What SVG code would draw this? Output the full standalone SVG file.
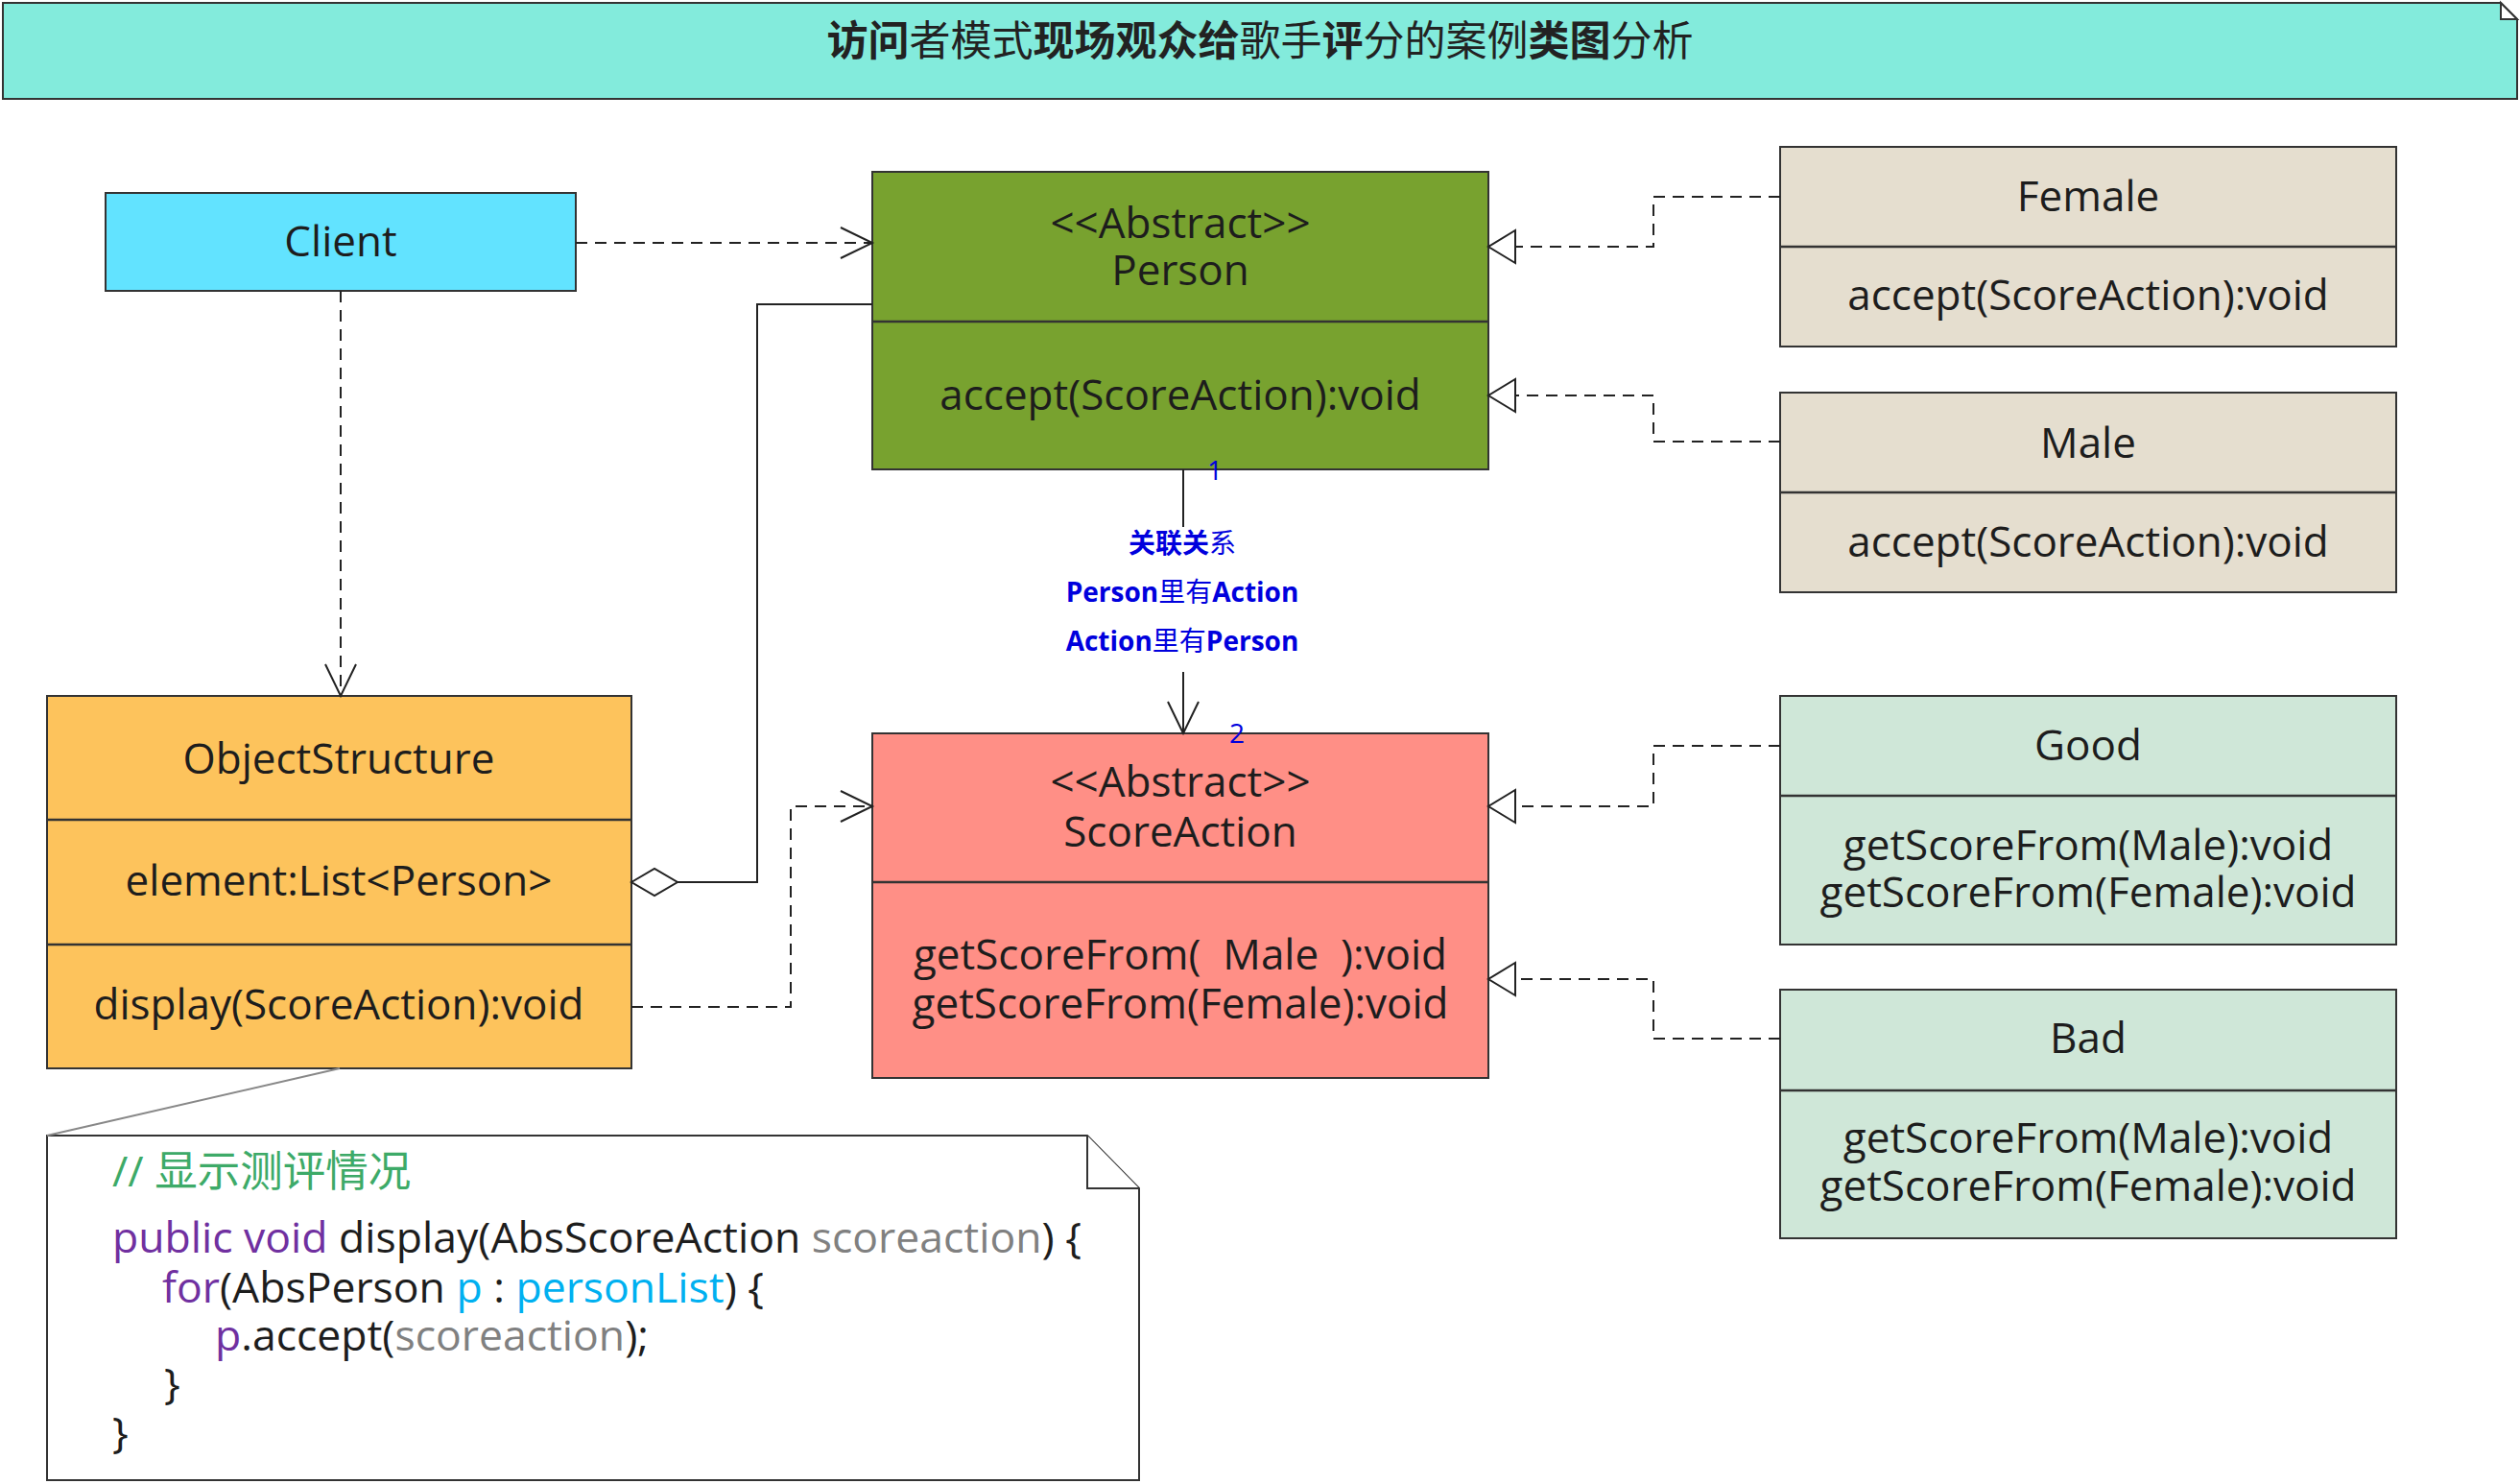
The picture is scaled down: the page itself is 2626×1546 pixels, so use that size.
<svg xmlns="http://www.w3.org/2000/svg" width="2626" height="1546" viewBox="0 0 2626 1546">
<style>
.box{stroke:#333;stroke-width:2}
.div{stroke:#333;stroke-width:2.5}
.t{font-family:"Open Sans","Noto Sans","Noto Sans CJK SC",sans-serif;font-size:44px;fill:#1d1d1d;text-anchor:middle}
.dash{fill:none;stroke:#222;stroke-width:2;stroke-dasharray:12 8}
.solid{fill:none;stroke:#222;stroke-width:2}
.lbl{font-family:"Open Sans","Noto Sans CJK SC",sans-serif;font-size:28px;fill:#0000DD;text-anchor:middle}
.code{font-family:"Open Sans","Noto Sans","Noto Sans CJK SC",sans-serif;font-size:44.5px;fill:#1d1d1d}
.kw{fill:#7030A0}
.gr{fill:#808080}
.cy{fill:#00B0F0}
.b{font-weight:bold}
</style>
<defs>
<marker id="open" markerUnits="userSpaceOnUse" markerWidth="36" markerHeight="36" refX="33" refY="17" orient="auto" overflow="visible">
<path d="M0,1 L33,17 L0,33" fill="none" stroke="#222" stroke-width="2"/>
</marker>
<marker id="tri" markerUnits="userSpaceOnUse" markerWidth="32" markerHeight="36" refX="29" refY="17" orient="auto" overflow="visible">
<path d="M1,0 L29,17 L1,34 Z" fill="#fff" stroke="#222" stroke-width="2"/>
</marker>
<marker id="dia" markerUnits="userSpaceOnUse" markerWidth="50" markerHeight="30" refX="0" refY="14" orient="auto" overflow="visible">
<path d="M0,14 L24,0 L48,14 L24,28 Z" fill="#fff" stroke="#222" stroke-width="2"/>
</marker>
</defs>
<rect width="2626" height="1546" fill="#fff"/>

<g id="title">
<path d="M3,3 H2606 L2623,20 V103 H3 Z" fill="#83EBDC" stroke="#333" stroke-width="2"/>
<path d="M2606,3 V20 H2623 Z" fill="#fff" stroke="#333" stroke-width="2"/>
<text x="1313" y="58" font-family="'Noto Sans CJK SC',sans-serif" font-size="43" fill="#222" text-anchor="middle"><tspan font-weight="bold">访问</tspan>者模式<tspan font-weight="bold">现场观众给</tspan>歌手<tspan font-weight="bold">评</tspan>分的案例<tspan font-weight="bold">类图</tspan>分析</text>
</g>

<g id="client">
<rect class="box" x="110" y="201" width="490" height="102" fill="#62E3FF"/>
<text class="t" x="355" y="267">Client</text>
</g>

<g id="person">
<rect class="box" x="909" y="179" width="642" height="310" fill="#78A22F"/>
<line class="div" x1="909" y1="335" x2="1551" y2="335"/>
<text class="t" x="1230" y="248">&lt;&lt;Abstract&gt;&gt;</text>
<text class="t" x="1230" y="297">Person</text>
<text class="t" x="1230" y="427">accept(ScoreAction):void</text>
</g>

<g id="female">
<rect class="box" x="1855" y="153" width="642" height="208" fill="#E5DECF"/>
<line class="div" x1="1855" y1="257" x2="2497" y2="257"/>
<text class="t" x="2176" y="220">Female</text>
<text class="t" x="2176" y="323">accept(ScoreAction):void</text>
</g>

<g id="male">
<rect class="box" x="1855" y="409" width="642" height="208" fill="#E5DECF"/>
<line class="div" x1="1855" y1="513" x2="2497" y2="513"/>
<text class="t" x="2176" y="477">Male</text>
<text class="t" x="2176" y="580">accept(ScoreAction):void</text>
</g>

<g id="objectstructure">
<rect class="box" x="49" y="725" width="609" height="388" fill="#FDC35C"/>
<line class="div" x1="49" y1="854" x2="658" y2="854"/>
<line class="div" x1="49" y1="984" x2="658" y2="984"/>
<text class="t" x="353" y="806">ObjectStructure</text>
<text class="t" x="353" y="933">element:List&lt;Person&gt;</text>
<text class="t" x="353" y="1062">display(ScoreAction):void</text>
</g>

<g id="scoreaction">
<rect class="box" x="909" y="764" width="642" height="359" fill="#FF8F86"/>
<line class="div" x1="909" y1="919" x2="1551" y2="919"/>
<text class="t" x="1230" y="830">&lt;&lt;Abstract&gt;&gt;</text>
<text class="t" x="1230" y="882">ScoreAction</text>
<text class="t" x="1230" y="1010" xml:space="preserve">getScoreFrom(  Male  ):void</text>
<text class="t" x="1230" y="1061">getScoreFrom(Female):void</text>
</g>

<g id="good">
<rect class="box" x="1855" y="725" width="642" height="259" fill="#CFE7D8"/>
<line class="div" x1="1855" y1="829" x2="2497" y2="829"/>
<text class="t" x="2176" y="792">Good</text>
<text class="t" x="2176" y="896">getScoreFrom(Male):void</text>
<text class="t" x="2176" y="945">getScoreFrom(Female):void</text>
</g>

<g id="bad">
<rect class="box" x="1855" y="1031" width="642" height="259" fill="#CFE7D8"/>
<line class="div" x1="1855" y1="1136" x2="2497" y2="1136"/>
<text class="t" x="2176" y="1097">Bad</text>
<text class="t" x="2176" y="1201">getScoreFrom(Male):void</text>
<text class="t" x="2176" y="1251">getScoreFrom(Female):void</text>
</g>

<g id="note">
<path d="M49,1183 H1133 L1187,1238 V1542 H49 Z" fill="#fff" stroke="#333" stroke-width="2"/>
<path d="M1133,1183 V1238 H1187" fill="#fff" stroke="#333" stroke-width="2"/>
<text class="code" x="117" y="1236" style="fill:#3DAA68">// 显示测评情况</text>
<text class="code" x="117" y="1305"><tspan class="kw">public void</tspan> display(AbsScoreAction <tspan class="gr">scoreaction</tspan>) {</text>
<text class="code" x="169" y="1357"><tspan class="kw">for</tspan>(AbsPerson <tspan class="cy">p</tspan> : <tspan class="cy">personList</tspan>) {</text>
<text class="code" x="224" y="1407"><tspan class="kw">p</tspan>.accept(<tspan class="gr">scoreaction</tspan>);</text>
<text class="code" x="171" y="1457">}</text>
<text class="code" x="117" y="1508">}</text>
</g>

<g id="connectors">
<path class="dash" d="M600,253 H909" marker-end="url(#open)"/>
<path class="dash" d="M355,303 V725" marker-end="url(#open)"/>
<path class="dash" d="M658,1049 H824 V840 H909" marker-end="url(#open)"/>
<path class="solid" d="M658,919 H789 V317 H909" marker-start="url(#dia)"/>
<path class="dash" d="M1855,205 H1723 V257 H1551" marker-end="url(#tri)"/>
<path class="dash" d="M1855,460 H1723 V412 H1551" marker-end="url(#tri)"/>
<path class="dash" d="M1855,777 H1723 V840 H1551" marker-end="url(#tri)"/>
<path class="dash" d="M1855,1082 H1723 V1020 H1551" marker-end="url(#tri)"/>
<path class="solid" d="M1233,489 V549 M1233,700 V764" marker-end="url(#open)"/>
<path d="M354,1113 L49,1183" fill="none" stroke="#888" stroke-width="2"/>
<text class="lbl" x="1266" y="500">1</text>
<text class="lbl" x="1289" y="774">2</text>
<text class="lbl" x="1232" y="576"><tspan class="b">关联关</tspan>系</text>
<text class="lbl" x="1232" y="627"><tspan class="b">Person</tspan>里有<tspan class="b">Action</tspan></text>
<text class="lbl" x="1232" y="678"><tspan class="b">Action</tspan>里有<tspan class="b">Person</tspan></text>
</g>
</svg>
